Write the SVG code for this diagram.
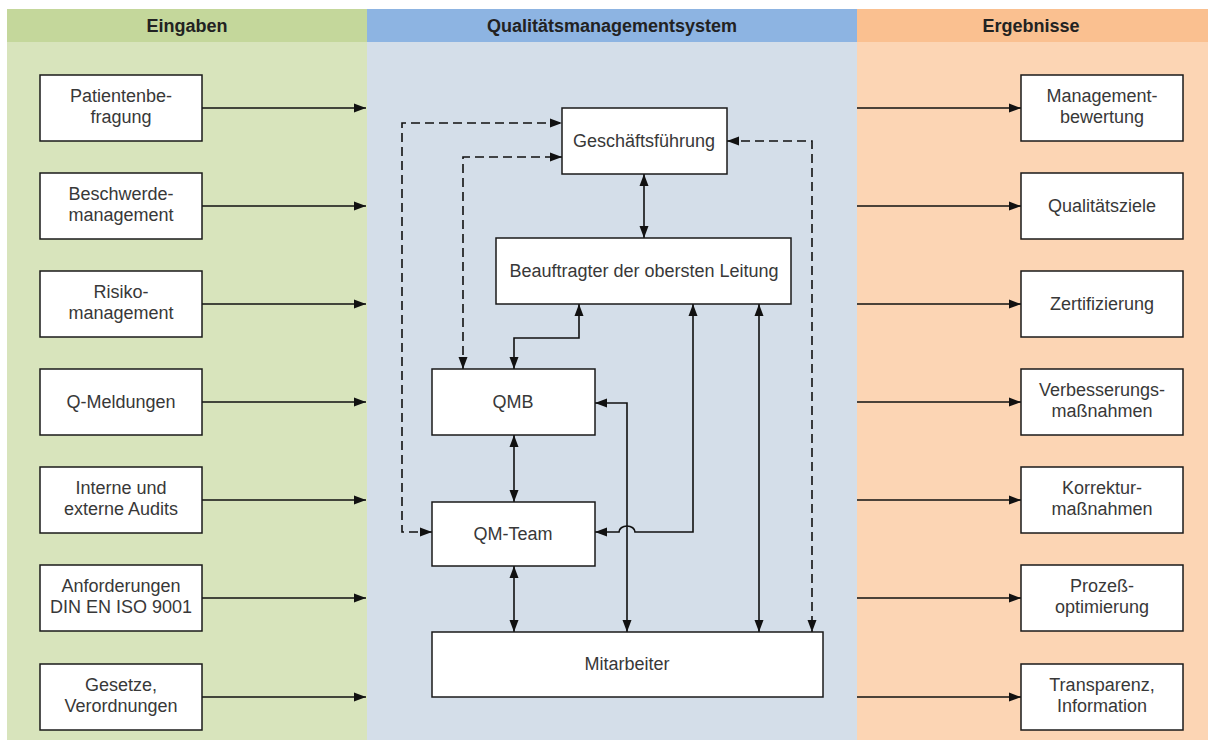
<svg xmlns="http://www.w3.org/2000/svg" width="1208" height="740" viewBox="0 0 1208 740">
<style>
.box{fill:#ffffff;stroke:#1a1a1a;stroke-width:1.5}
.t{font-family:"Liberation Sans",Arial,sans-serif;font-size:18px;fill:#383838;text-anchor:middle}
.h{font-family:"Liberation Sans",Arial,sans-serif;font-size:18px;font-weight:bold;fill:#222222;text-anchor:middle}
.c{fill:none;stroke:#111111;stroke-width:1.6}
.d{fill:none;stroke:#111111;stroke-width:1.6;stroke-dasharray:9 5}
</style>
<defs>
<marker id="ar" viewBox="0 0 12 10" refX="12" refY="5" markerWidth="12" markerHeight="10" markerUnits="userSpaceOnUse" orient="auto-start-reverse">
<path d="M0,0.5 L12,5 L0,9.5 z" fill="#111111"/>
</marker>
</defs>
<g id="background">
<rect x="7" y="9" width="360" height="33" fill="#c4d79b"/>
<rect x="7" y="42" width="360" height="698" fill="#d8e4bc"/>
<rect x="367" y="9" width="490" height="33" fill="#8db4e2"/>
<rect x="367" y="42" width="490" height="698" fill="#d4dee9"/>
<rect x="857" y="9" width="351" height="33" fill="#fac090"/>
<rect x="857" y="42" width="351" height="698" fill="#fcd5b4"/>
<text class="h" x="187" y="32">Eingaben</text>
<text class="h" x="612" y="32">Qualitätsmanagementsystem</text>
<text class="h" x="1031" y="32">Ergebnisse</text>
</g>
<g id="connectors">
<path class="c" d="M202,108 H366" marker-end="url(#ar)"/>
<path class="c" d="M202,206 H366" marker-end="url(#ar)"/>
<path class="c" d="M202,304 H366" marker-end="url(#ar)"/>
<path class="c" d="M202,402 H366" marker-end="url(#ar)"/>
<path class="c" d="M202,500 H366" marker-end="url(#ar)"/>
<path class="c" d="M202,598 H366" marker-end="url(#ar)"/>
<path class="c" d="M202,697 H366" marker-end="url(#ar)"/>
<path class="c" d="M857,108 H1021" marker-end="url(#ar)"/>
<path class="c" d="M857,206 H1021" marker-end="url(#ar)"/>
<path class="c" d="M857,304 H1021" marker-end="url(#ar)"/>
<path class="c" d="M857,402 H1021" marker-end="url(#ar)"/>
<path class="c" d="M857,500 H1021" marker-end="url(#ar)"/>
<path class="c" d="M857,598 H1021" marker-end="url(#ar)"/>
<path class="c" d="M857,697 H1021" marker-end="url(#ar)"/>
<path class="c" d="M644,174 V238" marker-start="url(#ar)" marker-end="url(#ar)"/>
<path class="d" d="M432,532 H402 V123 H562" marker-start="url(#ar)" marker-end="url(#ar)"/>
<path class="d" d="M463,369 V157 H562" marker-start="url(#ar)" marker-end="url(#ar)"/>
<path class="d" d="M727,141 H812 V632" marker-start="url(#ar)" marker-end="url(#ar)"/>
<path class="c" d="M579,304 V338 H514 V369" marker-start="url(#ar)" marker-end="url(#ar)"/>
<path class="c" d="M514,435 V502" marker-start="url(#ar)" marker-end="url(#ar)"/>
<path class="c" d="M514,566 V632" marker-start="url(#ar)" marker-end="url(#ar)"/>
<path class="c" d="M595,403 H627 V632" marker-start="url(#ar)" marker-end="url(#ar)"/>
<path class="c" d="M693,304 V532 H635 A8,6 0 0 0 619,532 H595" marker-start="url(#ar)" marker-end="url(#ar)"/>
<path class="c" d="M759,304 V632" marker-start="url(#ar)" marker-end="url(#ar)"/>
</g>
<g id="in1"><rect class="box" x="40" y="75" width="162" height="66"/><text class="t" x="121" y="102">Patientenbe-</text><text class="t" x="121" y="123">fragung</text></g>
<g id="in2"><rect class="box" x="40" y="173" width="162" height="66"/><text class="t" x="121" y="200">Beschwerde-</text><text class="t" x="121" y="221">management</text></g>
<g id="in3"><rect class="box" x="40" y="271" width="162" height="66"/><text class="t" x="121" y="298">Risiko-</text><text class="t" x="121" y="319">management</text></g>
<g id="in4"><rect class="box" x="40" y="369" width="162" height="66"/><text class="t" x="121" y="408">Q-Meldungen</text></g>
<g id="in5"><rect class="box" x="40" y="467" width="162" height="66"/><text class="t" x="121" y="494">Interne und</text><text class="t" x="121" y="515">externe Audits</text></g>
<g id="in6"><rect class="box" x="40" y="565" width="162" height="66"/><text class="t" x="121" y="592">Anforderungen</text><text class="t" x="121" y="613">DIN EN ISO 9001</text></g>
<g id="in7"><rect class="box" x="40" y="664" width="162" height="66"/><text class="t" x="121" y="691">Gesetze,</text><text class="t" x="121" y="712">Verordnungen</text></g>
<g id="out1"><rect class="box" x="1021" y="75" width="162" height="66"/><text class="t" x="1102" y="102">Management-</text><text class="t" x="1102" y="123">bewertung</text></g>
<g id="out2"><rect class="box" x="1021" y="173" width="162" height="66"/><text class="t" x="1102" y="212">Qualitätsziele</text></g>
<g id="out3"><rect class="box" x="1021" y="271" width="162" height="66"/><text class="t" x="1102" y="310">Zertifizierung</text></g>
<g id="out4"><rect class="box" x="1021" y="369" width="162" height="66"/><text class="t" x="1102" y="396">Verbesserungs-</text><text class="t" x="1102" y="417">maßnahmen</text></g>
<g id="out5"><rect class="box" x="1021" y="467" width="162" height="66"/><text class="t" x="1102" y="494">Korrektur-</text><text class="t" x="1102" y="515">maßnahmen</text></g>
<g id="out6"><rect class="box" x="1021" y="565" width="162" height="66"/><text class="t" x="1102" y="592">Prozeß-</text><text class="t" x="1102" y="613">optimierung</text></g>
<g id="out7"><rect class="box" x="1021" y="664" width="162" height="66"/><text class="t" x="1102" y="691">Transparenz,</text><text class="t" x="1102" y="712">Information</text></g>
<g id="gf"><rect class="box" x="562" y="108" width="165" height="66"/><text class="t" x="644" y="147">Geschäftsführung</text></g>
<g id="bol"><rect class="box" x="496" y="238" width="295" height="66"/><text class="t" x="644" y="277">Beauftragter der obersten Leitung</text></g>
<g id="qmb"><rect class="box" x="432" y="369" width="163" height="66"/><text class="t" x="513" y="408">QMB</text></g>
<g id="qmteam"><rect class="box" x="432" y="502" width="163" height="64"/><text class="t" x="513" y="540">QM-Team</text></g>
<g id="mitarbeiter"><rect class="box" x="432" y="632" width="391" height="65"/><text class="t" x="627" y="670">Mitarbeiter</text></g>
</svg>
